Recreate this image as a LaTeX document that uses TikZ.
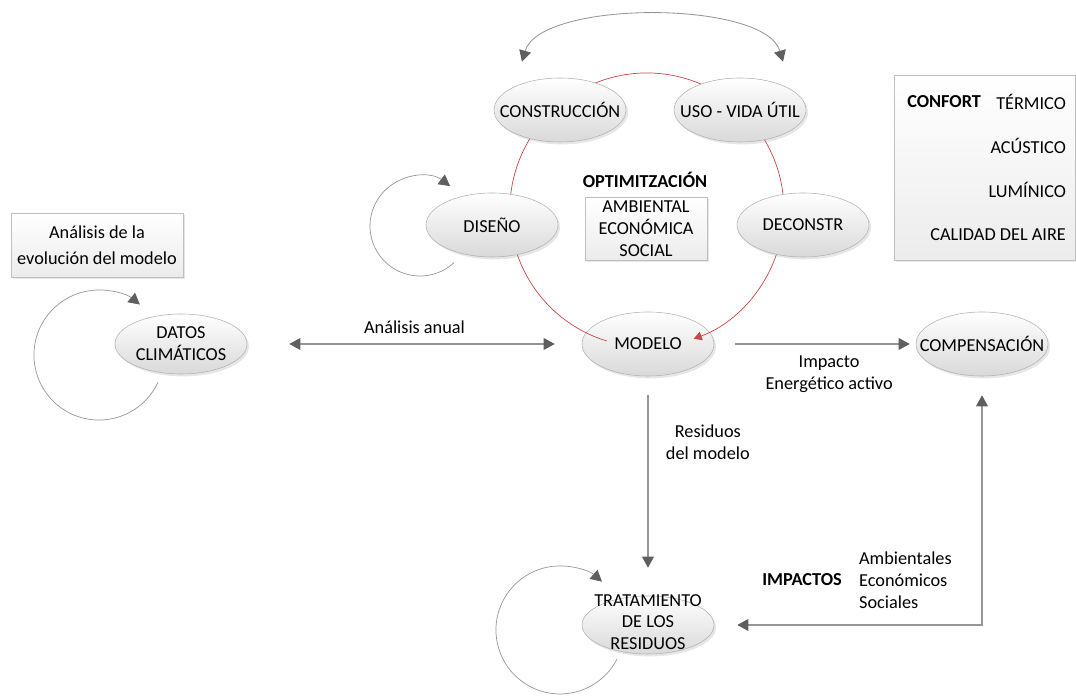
\documentclass[tikz,border=0pt]{standalone}
\usepackage{fontspec}
\setmainfont{Carlito}
\usetikzlibrary{shapes.geometric, arrows.meta, shadows, positioning}

\definecolor{linegray}{RGB}{150,150,150}
\definecolor{tipgray}{RGB}{95,95,95}
\definecolor{optred}{RGB}{200,70,70}
\newcommand{\tightlabel}[1]{\makebox[0pt]{\raisebox{-2pt}[0pt][0pt]{\begin{tabular}{@{}c@{}}#1\end{tabular}}}}

\begin{document}
\fontsize{13}{15.6}\selectfont
\begin{tikzpicture}
\tikzstyle{bubble}=[ellipse, draw=gray!60, top color=white, bottom color=gray!30, minimum width=3.3cm, minimum height=1.6cm, inner sep=0pt, drop shadow={opacity=0.2, shadow xshift=0.05cm, shadow yshift=-0.06cm}];
\tikzstyle{panel}=[rectangle, draw=gray!50, top color=white, bottom color=gray!15, drop shadow={opacity=0.2, shadow xshift=0.05cm, shadow yshift=-0.06cm}];
\tikzstyle{empty}=[inner sep=1pt];
\tikzstyle{arrow}=[-{Triangle[length=0.28cm, width=0.3cm, color=tipgray]}, draw=linegray, line width=0.8pt];
\tikzstyle{dblarrow}=[{Triangle[length=0.28cm, width=0.3cm, color=tipgray]}-{Triangle[length=0.28cm, width=0.3cm, color=tipgray]}, draw=linegray, line width=0.8pt];
\tikzstyle{cycle_arrow}=[-{Triangle[length=0.28cm, width=0.3cm, color=tipgray]}, draw=linegray, line width=0.5pt];
\tikzstyle{optim_arrow}=[-{Triangle[length=0.2cm, width=0.22cm]}, draw=optred, line width=0.5pt];

\useasboundingbox (0,0) rectangle (26.9,17.5);

% MODELO first, the red cycle runs over it
\node [bubble] at (16.2,8.9) (Modelo) {\makebox[0pt]{MODELO}};
\draw[optim_arrow] (Modelo) ++(-1.03,0.075) arc[start angle=253, end angle=-70, radius=3.425cm];

\node [bubble] at (14,14.75) (Constr) {\makebox[0pt]{CONSTRUCCIÓN}};
\node [bubble] at (18.5,14.75) (Uso) {\makebox[0pt]{USO - VIDA ÚTIL}};
\node [bubble] at (12.3,11.875) (Diseno) {\makebox[0pt]{DISEÑO}};
\node [bubble] at (20.075,11.875) (Deconstr) {\makebox[0pt]{DECONSTR}};
\node [bubble] at (24.55,8.9) (Comp) {\makebox[0pt]{COMPENSACIÓN}};
\node [bubble, minimum height=1.5cm, align=center] at (4.525,8.9) (Datos) {DATOS\\CLIMÁTICOS};
\node [bubble, minimum height=1.45cm] at (16.2,1.875) (Trat) {\tightlabel{TRATAMIENTO\\DE LOS\\RESIDUOS}};

\node [empty, font=\bfseries] at (16.125,13.0) (Optim) {OPTIMITZACIÓN};
\node [panel, minimum width=3.05cm, minimum height=1.575cm, inner sep=0pt, align=center] at (16.15,11.7875) (Criterios) {AMBIENTAL\\ECONÓMICA\\SOCIAL};
\node [panel, minimum width=4.25cm, minimum height=1.6cm, align=center, font=\fontsize{13}{18.5}\selectfont] at (2.425,11.375) (Analisis) {Análisis de la\\evolución del modelo};

\node [panel, minimum width=4.53cm, minimum height=4.625cm] at (24.615,13.3125) (ConfortBox) {};
\node [empty, font=\bfseries, anchor=west] at (22.64,14.95) (Confort) {CONFORT};
\node [empty, anchor=east] at (26.69,14.95) (Termico) {TÉRMICO};
\node [empty, anchor=east] at (26.69,13.85) (Acustico) {ACÚSTICO};
\node [empty, anchor=east] at (26.69,12.75) (Luminico) {LUMÍNICO};
\node [empty, anchor=east] at (26.69,11.625) (Aire) {CALIDAD DEL AIRE};

\draw[dblarrow, line width=0.6pt] ([shift={(-0.95,0.4)}]Constr.north) .. controls +(0.45,1.55) and +(-0.45,1.55) .. ([shift={(1.075,0.4)}]Uso.north);

\draw[cycle_arrow] (Diseno) ++(-0.9475,-0.94) arc[start angle=-47, end angle=-307, radius=1.25cm];
\draw[cycle_arrow] (Datos) ++(-0.578,-0.9625) arc[start angle=-25, end angle=-309, radius=1.625cm];
\draw[cycle_arrow] (Trat) ++(-0.775,-0.85) arc[start angle=-27, end angle=-311, radius=1.6cm];

\draw[dblarrow, shorten <=1.05cm, shorten >=0.675cm] (Datos) -- node[empty, above=0.2cm] (AnualLbl) {Análisis anual} (Modelo);
\draw[arrow, shorten <=0.525cm, shorten >=0.15cm] (Modelo) -- node[empty, pos=0.57, below=0.25cm, align=center] (ImpactoLbl) {Impacto\\Energético activo} (Comp);
\draw[arrow, shorten <=0.475cm, shorten >=0.7cm] (Modelo) -- node[empty, pos=0.3, right=0.4cm, align=center] (ResiduosLbl) {Residuos\\del modelo} (Trat);
\draw[dblarrow, shorten <=0.575cm, shorten >=0.475cm] (Trat) -| (Comp);

\node [empty, font=\bfseries] at (20.05,3.0) (Impactos) {IMPACTOS};
\node [empty, align=left, right=0.35cm of Impactos] (Tipos) {Ambientales\\Económicos\\Sociales};

\end{tikzpicture}
\end{document}
